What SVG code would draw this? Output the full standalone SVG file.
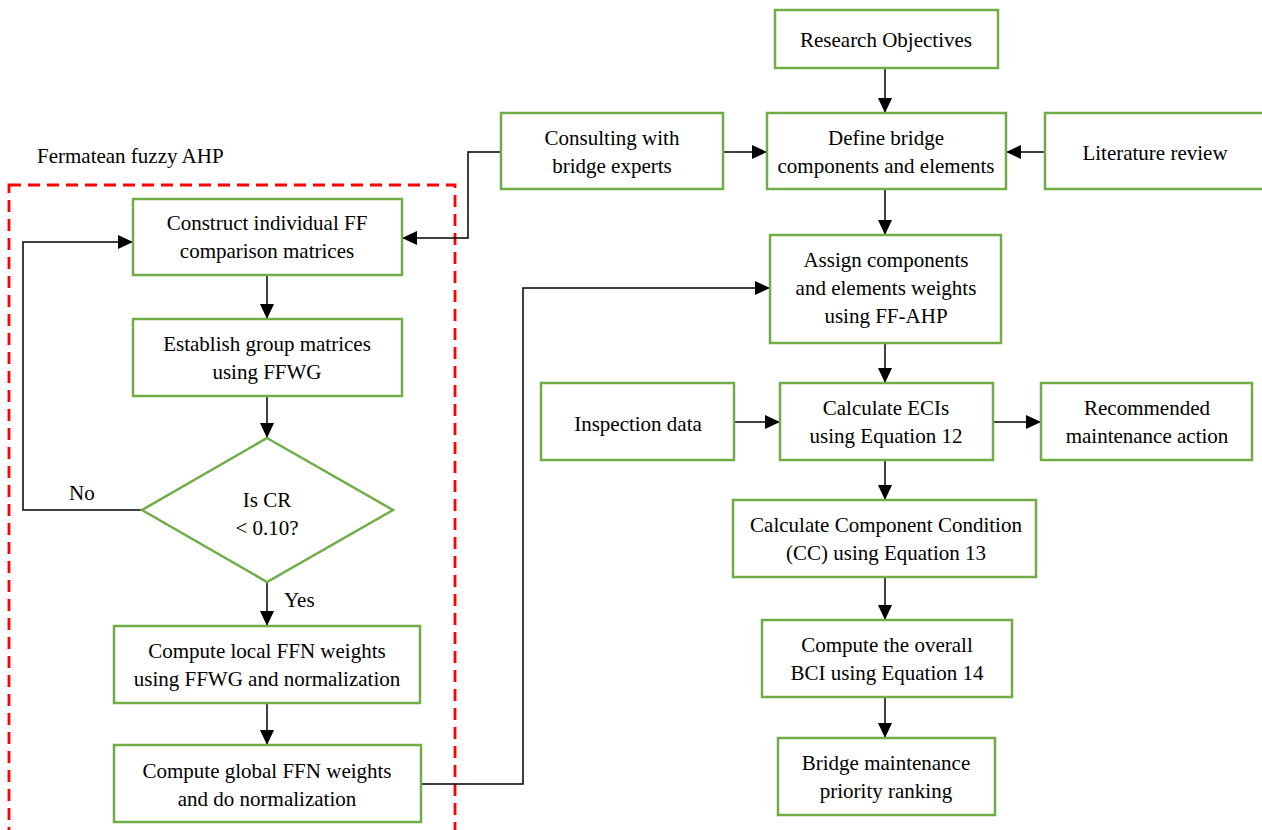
<svg xmlns="http://www.w3.org/2000/svg" width="1262" height="830" viewBox="0 0 1262 830">
<defs>
<marker id="ah" markerWidth="15" markerHeight="14" refX="15" refY="7" orient="auto" markerUnits="userSpaceOnUse">
<path d="M0,0 L15,7 L0,14 Z" fill="#000"/>
</marker>
<style>
.b{fill:#fff;stroke:#70ad47;stroke-width:2.5}
.t{font-family:"Liberation Serif","Times New Roman",serif;font-size:21px;fill:#000;text-anchor:middle}
.l{font-family:"Liberation Serif","Times New Roman",serif;font-size:21px;fill:#000}
.c{fill:none;stroke:#000;stroke-width:1.5;marker-end:url(#ah)}
.n{fill:none;stroke:#000;stroke-width:1.5}
</style>
</defs>
<rect width="1262" height="830" fill="#fff"/>
<g id="region">
<rect x="9" y="185" width="446" height="660" fill="none" stroke="#f00" stroke-width="2.8" stroke-dasharray="12,7"/>
<text class="l" x="37" y="163">Fermatean fuzzy AHP</text>
</g>
<g id="connectors">
<line class="c" x1="885" y1="68" x2="885" y2="113"/>
<line class="c" x1="723" y1="152" x2="767" y2="152"/>
<line class="c" x1="1045" y1="152" x2="1006" y2="152"/>
<polyline class="c" points="501,152 468,152 468,238 402,238"/>
<line class="c" x1="885" y1="189" x2="885" y2="235"/>
<line class="c" x1="267" y1="275" x2="267" y2="319"/>
<line class="c" x1="267" y1="396" x2="267" y2="438"/>
<polyline class="c" points="142,510 23,510 23,242 133,242"/>
<line class="c" x1="267" y1="582" x2="267" y2="626"/>
<line class="c" x1="267" y1="703" x2="267" y2="745"/>
<polyline class="c" points="421,784 523,784 523,288 770,288"/>
<line class="c" x1="885" y1="343" x2="885" y2="383"/>
<line class="c" x1="734" y1="422" x2="780" y2="422"/>
<line class="c" x1="993" y1="422" x2="1041" y2="422"/>
<line class="c" x1="885" y1="460" x2="885" y2="500"/>
<line class="c" x1="885" y1="577" x2="885" y2="620"/>
<line class="c" x1="885" y1="697" x2="885" y2="738"/>
<text class="l" x="69" y="500">No</text>
<text class="l" x="284" y="607">Yes</text>
</g>
<g id="research">
<rect class="b" x="775" y="10" width="223" height="58"/>
<text class="t" x="886" y="47">Research Objectives</text>
</g>
<g id="define">
<rect class="b" x="767" y="113" width="239" height="76"/>
<text class="t" x="886" y="145">Define bridge</text>
<text class="t" x="886" y="173">components and elements</text>
</g>
<g id="consult">
<rect class="b" x="501" y="113" width="222" height="76"/>
<text class="t" x="612" y="145">Consulting with</text>
<text class="t" x="612" y="173">bridge experts</text>
</g>
<g id="literature">
<rect class="b" x="1045" y="113" width="222" height="76"/>
<text class="t" x="1155" y="160">Literature review</text>
</g>
<g id="construct">
<rect class="b" x="133" y="199" width="269" height="76"/>
<text class="t" x="267" y="230">Construct individual FF</text>
<text class="t" x="267" y="258">comparison matrices</text>
</g>
<g id="establish">
<rect class="b" x="133" y="319" width="269" height="77"/>
<text class="t" x="267" y="351">Establish group matrices</text>
<text class="t" x="267" y="379">using FFWG</text>
</g>
<g id="decision">
<polygon class="b" points="267,438 393,510 267,582 142,510"/>
<text class="t" x="267" y="507">Is CR</text>
<text class="t" x="267" y="535">&lt; 0.10?</text>
</g>
<g id="local">
<rect class="b" x="114" y="626" width="306" height="77"/>
<text class="t" x="267" y="658">Compute local FFN weights</text>
<text class="t" x="267" y="686">using FFWG and normalization</text>
</g>
<g id="global">
<rect class="b" x="114" y="745" width="307" height="77"/>
<text class="t" x="267" y="778">Compute global FFN weights</text>
<text class="t" x="267" y="806">and do normalization</text>
</g>
<g id="assign">
<rect class="b" x="770" y="235" width="231" height="108"/>
<text class="t" x="886" y="267">Assign components</text>
<text class="t" x="886" y="295">and elements weights</text>
<text class="t" x="886" y="323">using FF-AHP</text>
</g>
<g id="inspection">
<rect class="b" x="541" y="383" width="193" height="77"/>
<text class="t" x="638" y="431">Inspection data</text>
</g>
<g id="eci">
<rect class="b" x="780" y="383" width="213" height="77"/>
<text class="t" x="886" y="415">Calculate ECIs</text>
<text class="t" x="886" y="443">using Equation 12</text>
</g>
<g id="recommended">
<rect class="b" x="1041" y="383" width="211" height="77"/>
<text class="t" x="1147" y="415">Recommended</text>
<text class="t" x="1147" y="443">maintenance action</text>
</g>
<g id="cc">
<rect class="b" x="733" y="500" width="303" height="77"/>
<text class="t" x="886" y="532">Calculate Component Condition</text>
<text class="t" x="886" y="560">(CC) using Equation 13</text>
</g>
<g id="bci">
<rect class="b" x="762" y="620" width="250" height="77"/>
<text class="t" x="887" y="652">Compute the overall</text>
<text class="t" x="887" y="680">BCI using Equation 14</text>
</g>
<g id="ranking">
<rect class="b" x="778" y="738" width="217" height="77"/>
<text class="t" x="886" y="770">Bridge maintenance</text>
<text class="t" x="886" y="798">priority ranking</text>
</g>
</svg>
